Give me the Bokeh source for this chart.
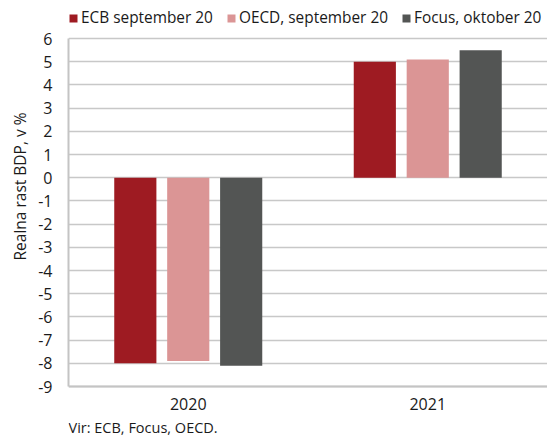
from bokeh.plotting import figure
from bokeh.models import (ColumnDataSource, FactorRange, Range1d, FixedTicker,
                          Legend, LegendItem, Label, Title)
from bokeh.transform import dodge
from bokeh.embed import file_html
from bokeh.resources import INLINE

# ---- data ----
years = ["2020", "2021"]
ecb_sep20 = [-8.0, 5.0]
oecd_sep20 = [-7.9, 5.1]
focus_okt20 = [-8.1, 5.5]
series_names = ["ECB september 20", "OECD, september 20", "Focus, oktober 20"]
y_ticks = list(range(-9, 7))
y_tick_labels = [str(t) for t in y_ticks]
y_title = "Realna rast BDP, v %"
source_note = "Vir: ECB, Focus, OECD."

colors = ["#9E1B22", "#DB9595", "#535554"]
FONT = "Open Sans"
TXT = "#1a1a1a"

src = ColumnDataSource(dict(year=years, ecb=ecb_sep20, oecd=oecd_sep20, focus=focus_okt20))

y_lo, y_hi = y_ticks[0], y_ticks[-1]
p = figure(x_range=FactorRange(*years, range_padding=0),
           y_range=Range1d(y_lo - 2.24, y_hi + 1.64),
           width=547, height=438, output_backend="svg", toolbar_location=None,
           min_border_left=68, min_border_right=0, min_border_top=0, min_border_bottom=0)
p.outline_line_color = None
p.background_fill_color = "white"
p.border_fill_color = "white"

off = 0.221
w = 0.176
keys = ["ecb", "oecd", "focus"]
renderers = []
for i, (k, c) in enumerate(zip(keys, colors)):
    r = p.vbar(x=dodge("year", (i - 1) * off, range=p.x_range), top=k, bottom=0,
               width=w, source=src, fill_color=c, line_color=None)
    renderers.append(r)

# axes
p.yaxis.ticker = FixedTicker(ticks=y_ticks)
p.yaxis.major_label_overrides = {t: s for t, s in zip(y_ticks, y_tick_labels)}
p.yaxis.bounds = (y_lo, y_hi)
p.xaxis.fixed_location = y_lo
for ax in (p.xaxis[0], p.yaxis[0]):
    ax.axis_line_color = "#c4c4c4"
    ax.axis_line_width = 2
    ax.major_tick_line_color = None
    ax.minor_tick_line_color = None
    ax.major_tick_out = 0
    ax.major_tick_in = 0
    ax.minor_tick_out = 0
    ax.minor_tick_in = 0
    ax.major_label_text_font = FONT
    ax.major_label_text_font_size = "16px"
    ax.major_label_text_color = TXT
p.yaxis.major_label_standoff = 16
p.xaxis.major_label_standoff = 11

p.xgrid.grid_line_color = None
p.ygrid.grid_line_color = "#c8c8c8"
p.ygrid.grid_line_width = 1.4

# y title as a side title (shifted up to sit where the reference has it)
p.add_layout(Title(text=y_title, align="left", offset=178, standoff=10,
                   text_font=FONT, text_font_size="15.5px", text_font_style="normal",
                   text_color=TXT), "left")

# legend (inside the frame, above the plotted values)
items = [LegendItem(label=n, renderers=[r]) for n, r in zip(series_names, renderers)]
leg = Legend(items=items, orientation="horizontal", location=(0, 410),
             label_text_font=FONT, label_text_font_size="15.4px", label_text_color=TXT,
             glyph_width=10, glyph_height=10, label_standoff=3, spacing=13,
             padding=0, margin=0, border_line_color=None, background_fill_alpha=0,
             label_height=20)
p.add_layout(leg, "center")

# source note
p.add_layout(Label(x=0.0, y=y_lo - 1.78, text=source_note, text_align="left",
                   text_baseline="middle", text_font=FONT, text_font_size="14.5px",
                   text_color=TXT))

open("out.html", "w").write(file_html(p, INLINE))
